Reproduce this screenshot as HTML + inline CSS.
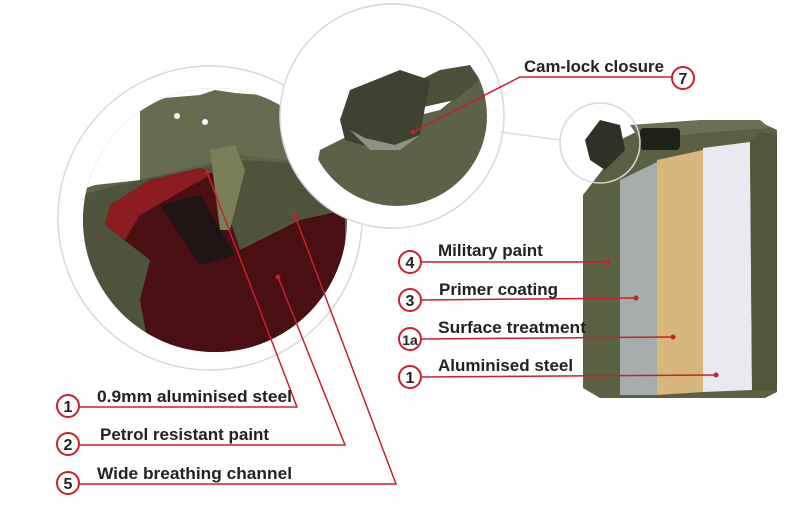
<!DOCTYPE html>
<html><head><meta charset="utf-8"><style>
html,body{margin:0;padding:0;background:#fff;width:800px;height:532px;overflow:hidden}
text{font-family:"Liberation Sans",sans-serif;font-weight:bold;fill:#222}
</style></head><body>
<svg width="800" height="532" viewBox="0 0 800 532" xmlns="http://www.w3.org/2000/svg">
<defs>
<clipPath id="bc"><circle cx="215" cy="220" r="132"/></clipPath>
<clipPath id="tc"><circle cx="397" cy="116" r="90"/></clipPath>
</defs>
<!-- big circle -->
<circle cx="210" cy="218" r="152" fill="#fff" stroke="#d8d8d8" stroke-width="1.5"/>
<g clip-path="url(#bc)">
<rect x="80" y="85" width="270" height="270" fill="#5d6348"/>
<path d="M80 85 H350 V150 L320 160 L240 150 L190 150 L140 180 L95 185 L80 190Z" fill="#fff"/>
<path d="M140 180 L140 100 L200 95 L215 90 L235 93 L330 100 L330 165 L240 155Z" fill="#666c50"/>
<path d="M80 195 L140 180 L240 160 L330 165 L345 200 L345 355 L80 355Z" fill="#4e543c"/>
<path d="M105 225 L110 205 L150 180 L200 168 L215 175 L240 250 L300 220 L345 210 L345 355 L150 355 L140 300 L150 260 Z" fill="#4a0f12"/>
<path d="M105 225 L110 205 L150 180 L200 168 L210 175 L175 195 L140 215 L125 240Z" fill="#8a1c22"/>
<path d="M160 205 L200 195 L235 255 L200 265Z" fill="#1e1414"/>
<path d="M210 150 L235 145 L245 170 L230 230 L220 230Z" fill="#7a7f5a"/>
<circle cx="177" cy="116" r="3" fill="#fff"/><circle cx="205" cy="122" r="3" fill="#fff"/>
</g>
<!-- top circle -->
<circle cx="392" cy="116" r="112" fill="#fff" stroke="#d8d8d8" stroke-width="1.5"/>
<g clip-path="url(#tc)">
<rect x="300" y="20" width="200" height="200" fill="#fff"/>
<path d="M305 230 L320 150 L360 130 L440 110 L490 70 L495 230Z" fill="#5c6247"/>
<path d="M410 110 L420 80 L440 70 L470 65 L480 80 L455 100Z" fill="#4a503a"/>
<path d="M340 120 L350 90 L400 70 L430 80 L420 135 L380 150 L345 140Z" fill="#3e4330"/>
<path d="M350 130 L370 150 L400 150 L420 135 L395 145 L365 138Z" fill="#8d9380"/>
</g>
<!-- small circle + link -->
<line x1="500" y1="132" x2="560" y2="140" stroke="#ddd" stroke-width="1.5"/>
<!-- jerry can -->
<path d="M583 195 L610 160 L620 140 L640 130 L760 122 L777 130 L777 392 L765 398 L600 398 L583 388Z" fill="#5a6142"/>
<path d="M630 125 L700 120 L760 120 L770 128 L700 133 L640 140Z" fill="#6a7052"/>
<rect x="640" y="128" width="40" height="22" rx="4" fill="#1f2218"/>
<path d="M620 180 L657 162 L657 395 L620 395Z" fill="#a7acad"/>
<path d="M657 160 L703 150 L703 392 L657 395Z" fill="#d7b77c"/>
<path d="M703 148 L750 142 L752 390 L703 392Z" fill="#e9e9ef"/>
<path d="M750 142 L760 132 L777 135 L777 390 L752 390Z" fill="#4f563a"/>
<path d="M585 140 L600 120 L620 125 L625 150 L605 170 L590 160Z" fill="#2e3226"/>
<circle cx="600" cy="143" r="40" fill="none" stroke="#d8d8d8" stroke-width="1.5"/>
<!-- connectors -->
<g stroke="#c8202e" stroke-width="1.5" fill="none">
<polyline points="413,132 520,77 672,77"/>
<line x1="422" y1="262" x2="608" y2="262"/>
<line x1="422" y1="300" x2="636" y2="298"/>
<line x1="422" y1="339" x2="673" y2="337"/>
<line x1="422" y1="377" x2="716" y2="375"/>
<polyline points="80,407 297,407 207,172"/>
<polyline points="80,445 345,445 278,277"/>
<polyline points="80,484 396,484 295,216"/>
</g>
<g fill="#c8202e">
<circle cx="413" cy="132" r="2.5"/><circle cx="608" cy="262" r="2.5"/><circle cx="636" cy="298" r="2.5"/>
<circle cx="673" cy="337" r="2.5"/><circle cx="716" cy="375" r="2.5"/><circle cx="207" cy="172" r="2.5"/>
<circle cx="278" cy="277" r="2.5"/><circle cx="295" cy="216" r="2.5"/>
</g>
<g fill="#fff" stroke="#c8202e" stroke-width="2">
<circle cx="683" cy="78" r="11"/>
<circle cx="410" cy="262" r="11"/><circle cx="410" cy="300" r="11"/><circle cx="410" cy="339" r="11"/><circle cx="410" cy="377" r="11"/>
<circle cx="68" cy="406" r="11"/><circle cx="68" cy="444" r="11"/><circle cx="68" cy="483" r="11"/>
</g>
<g font-size="16" text-anchor="middle">
<text x="683" y="84">7</text><text x="410" y="268">4</text><text x="410" y="306">3</text>
<text x="410" y="345" font-size="14">1a</text><text x="410" y="383">1</text>
<text x="68" y="412">1</text><text x="68" y="450">2</text><text x="68" y="489">5</text>
</g>
<g font-size="17">
<text x="524" y="72" font-size="16.8">Cam-lock closure</text>
<text x="438" y="256">Military paint</text>
<text x="439" y="295">Primer coating</text>
<text x="438" y="333" textLength="148" lengthAdjust="spacingAndGlyphs">Surface treatment</text>
<text x="438" y="371">Aluminised steel</text>
<text x="97" y="402" textLength="195" lengthAdjust="spacingAndGlyphs">0.9mm aluminised steel</text>
<text x="100" y="440">Petrol resistant paint</text>
<text x="97" y="479" textLength="195" lengthAdjust="spacingAndGlyphs">Wide breathing channel</text>
</g>
</svg>
</body></html>
